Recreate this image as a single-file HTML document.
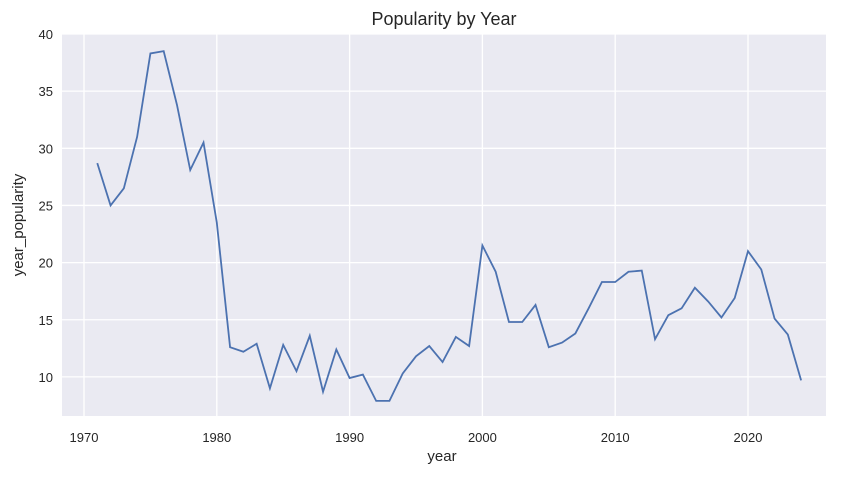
<!DOCTYPE html>
<html><head><meta charset="utf-8"><style>
body{margin:0;background:#fff;font-family:"Liberation Sans",sans-serif;}
svg text{font-family:"Liberation Sans",sans-serif;fill:#262626;}
</style></head><body>
<svg width="846" height="476">
<text x="444" y="25" font-size="18" text-anchor="middle">Popularity by Year</text>
<rect x="62" y="34" width="764" height="382" fill="#eaeaf2"/>
<g id="grid"></g><g id="ticks"></g>
<path id="line" fill="none" stroke="#4c72b0" stroke-width="1.8"/>
<text x="442" y="461" font-size="15" text-anchor="middle">year</text>
<text x="23" y="225" font-size="15" text-anchor="middle" transform="rotate(-90 23 225)">year_popularity</text>
</svg>
<script>
const years=[1971,1972,1973,1974,1975,1976,1977,1978,1979,1980,1981,1982,1983,1984,1985,1986,1987,1988,1989,1990,1991,1992,1993,1994,1995,1996,1997,1998,1999,2000,2001,2002,2003,2004,2005,2006,2007,2008,2009,2010,2011,2012,2013,2014,2015,2016,2017,2018,2019,2020,2021,2022,2023,2024];
const popularity=[28.7,25.0,26.5,31,38.3,38.5,33.8,28.1,30.5,23.5,12.6,12.2,12.9,9.0,12.8,10.5,13.6,8.7,12.4,9.9,10.2,7.9,7.9,10.3,11.8,12.7,11.3,13.5,12.7,21.5,19.2,14.8,14.8,16.3,12.6,13.0,13.8,16.0,18.3,18.3,19.2,19.3,13.3,15.4,16.0,17.8,16.6,15.2,16.9,21.0,19.4,15.1,13.7,9.7];
const xTicks=[1970,1980,1990,2000,2010,2020];
const yTicks=[10,15,20,25,30,35,40];
const X=v=>84+(v-1970)*13.28;
const Y=v=>34+(40-v)*11.43;
const ns="http://www.w3.org/2000/svg";
const grid=document.getElementById('grid'),ticks=document.getElementById('ticks');
xTicks.forEach(t=>{const l=document.createElementNS(ns,'line');


l.setAttribute('x1',X(t));l.setAttribute('x2',X(t));l.setAttribute('y1',34);l.setAttribute('y2',416);l.setAttribute('stroke','#fff');l.setAttribute('stroke-width','1.3');grid.appendChild(l);
const tx=document.createElementNS(ns,'text');


tx.setAttribute('x',X(t));tx.setAttribute('y',442);tx.setAttribute('font-size','13');tx.setAttribute('text-anchor','middle');tx.textContent=t;ticks.appendChild(tx);});
yTicks.forEach(t=>{const l=document.createElementNS(ns,'line');


l.setAttribute('x1',62);l.setAttribute('x2',826);l.setAttribute('y1',Y(t));l.setAttribute('y2',Y(t));l.setAttribute('stroke','#fff');l.setAttribute('stroke-width','1.3');grid.appendChild(l);
const tx=document.createElementNS(ns,'text');


tx.setAttribute('x',53);tx.setAttribute('y',Y(t)+5);tx.setAttribute('font-size','13');tx.setAttribute('text-anchor','end');tx.textContent=t;ticks.appendChild(tx);});
document.getElementById('line').setAttribute('d',years.map((y,i)=>(i?'L':'M')+X(y)+','+Y(popularity[i])).join(''));
</script>
</body></html>
